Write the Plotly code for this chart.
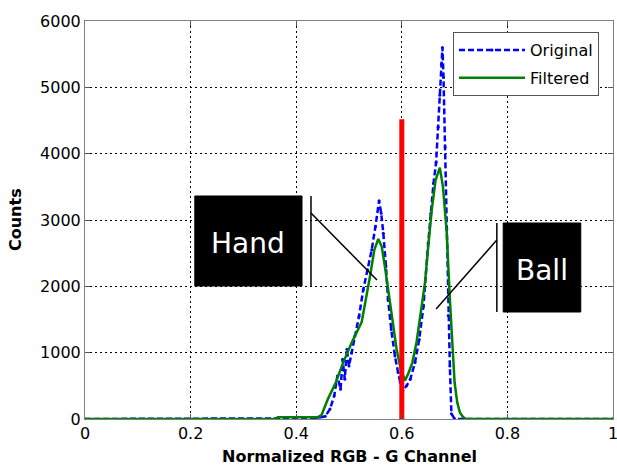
import plotly.graph_objects as go

# ---- data ----
orig_x = [0, 0.36, 0.40, 0.44, 0.455, 0.464, 0.472, 0.478, 0.484, 0.488, 0.492, 0.496, 0.500, 0.505,
          0.511, 0.519, 0.527, 0.535, 0.543, 0.550, 0.557, 0.561, 0.565, 0.570, 0.574, 0.580, 0.587,
          0.593, 0.597, 0.602, 0.609, 0.616, 0.625, 0.633, 0.641, 0.650, 0.655, 0.660, 0.665, 0.669,
          0.672, 0.675, 0.677, 0.679, 0.682, 0.685, 0.688, 0.691, 0.694, 0.700, 1.0]
orig_y = [0, 0, 10, 20, 40, 150, 350, 650, 450, 900, 600, 1050, 800, 1000,
          1250, 1550, 1950, 2250, 2550, 2900, 3290, 3100, 2800, 2300, 1800, 1350, 950,
          700, 550, 430, 500, 600, 850, 1200, 1700, 2650, 3100, 3550, 3870, 4400,
          4880, 5350, 5600, 5150, 4100, 2870, 1560, 800, 80, 0, 0]

filt_x = [0, 0.36, 0.365, 0.44, 0.448, 0.46, 0.475, 0.489, 0.505, 0.524, 0.54, 0.548, 0.5555, 0.562,
          0.568, 0.574, 0.582, 0.590, 0.598, 0.606, 0.612, 0.620, 0.628, 0.636, 0.644, 0.650, 0.657,
          0.664, 0.672, 0.678, 0.685, 0.691, 0.696, 0.700, 0.705, 0.710, 0.716, 0.722, 1.0]
filt_y = [0, 0, 25, 25, 60, 300, 550, 850, 1150, 1460, 2160, 2550, 2715, 2600,
          2300, 1960, 1500, 1060, 750, 580, 680, 850, 1160, 1600, 2060, 2600, 3170,
          3600, 3790, 3500, 2820, 1810, 1100, 550, 250, 100, 30, 0, 0]

threshold_x = [0.6, 0.6]
threshold_y = [0, 4520]

x_ticks = [0, 0.2, 0.4, 0.6, 0.8, 1]
x_tick_labels = ["0", "0.2", "0.4", "0.6", "0.8", "1"]
y_ticks = [0, 1000, 2000, 3000, 4000, 5000, 6000]
y_tick_labels = ["0", "1000", "2000", "3000", "4000", "5000", "6000"]

series_names = ["Original", "Filtered"]
label_texts = ["Hand", "Ball"]

FONT = "DejaVu Sans"

fig = go.Figure()
fig.add_trace(go.Scatter(x=orig_x, y=orig_y, name=series_names[0], mode="lines+markers",
                         legendgroup="a",
                         line=dict(color="#0000ff", width=2.5, dash="6px,3px"),
                         marker=dict(size=3, color="#0000ff")))
fig.add_trace(go.Scatter(x=filt_x, y=filt_y, name=series_names[1], mode="lines",
                         legendgroup="b",
                         line=dict(color="#008000", width=2.5)))
fig.add_trace(go.Scatter(x=threshold_x, y=threshold_y, mode="lines", showlegend=False,
                         line=dict(color="#ff0000", width=5)))

shapes = [
    # Hand label box + bracket + pointer
    dict(type="rect", xref="x", yref="y", x0=0.208, x1=0.411, y0=2005, y1=3362,
         fillcolor="black", line=dict(color="black", width=1)),
    dict(type="line", xref="x", yref="y", x0=0.428, x1=0.428, y0=2005, y1=3362,
         line=dict(color="black", width=1.5)),
    dict(type="line", xref="x", yref="y", x0=0.428, x1=0.553, y0=3106, y1=2095,
         line=dict(color="black", width=1.5)),
    # Ball label box + bracket + pointer
    dict(type="rect", xref="x", yref="y", x0=0.792, x1=0.939, y0=1613, y1=2955,
         fillcolor="black", line=dict(color="black", width=1)),
    dict(type="line", xref="x", yref="y", x0=0.780, x1=0.780, y0=1613, y1=2955,
         line=dict(color="black", width=1.5)),
    dict(type="line", xref="x", yref="y", x0=0.780, x1=0.665, y0=2698, y1=1658,
         line=dict(color="black", width=1.5)),
]

annotations = [
    dict(x=0.309, y=2653, xref="x", yref="y", text=label_texts[0], showarrow=False,
         font=dict(family=FONT, size=28, color="white")),
    dict(x=0.866, y=2246, xref="x", yref="y", text=label_texts[1], showarrow=False,
         font=dict(family=FONT, size=28, color="white")),
    dict(x=0.5, y=0, xref="paper", yref="paper", yshift=-37, text="<b>Normalized RGB - G Channel</b>",
         showarrow=False, yanchor="middle", font=dict(family=FONT, size=16, color="black")),
    dict(x=0, y=0.5, xref="paper", yref="paper", xshift=-70, text="<b>Counts</b>", textangle=-90,
         showarrow=False, xanchor="center", font=dict(family=FONT, size=16, color="black")),
]

axis_common = dict(showgrid=True, gridcolor="black", griddash="2px,3px", gridwidth=1,
                   showline=True, linecolor="#808080", linewidth=1, mirror="ticks",
                   ticks="inside", ticklen=5, tickcolor="#555555", zeroline=False,
                   ticklabeloverflow="allow", automargin=False,
                   tickfont=dict(family=FONT, size=16, color="black"))

fig.update_layout(
    width=617, height=468,
    margin=dict(l=85, r=4, t=21, b=49),
    paper_bgcolor="white", plot_bgcolor="white",
    xaxis=dict(range=[0, 1], tickvals=x_ticks, ticktext=x_tick_labels, **axis_common),
    yaxis=dict(range=[0, 6000], tickvals=y_ticks, ticktext=y_tick_labels, **axis_common),
    legend=dict(x=0.697, y=0.972, xanchor="left", yanchor="top", bgcolor="white",
                bordercolor="#555555", borderwidth=1, itemwidth=66, tracegroupgap=4,
                font=dict(family=FONT, size=16, color="black")),
    shapes=shapes, annotations=annotations, showlegend=True,
)

# remove the default 8px page margin so the figure fills the window exactly
fig.write_html("out.html", config={"displayModeBar": False},
               post_script="document.body.style.margin='0';document.body.style.overflow='hidden';")
